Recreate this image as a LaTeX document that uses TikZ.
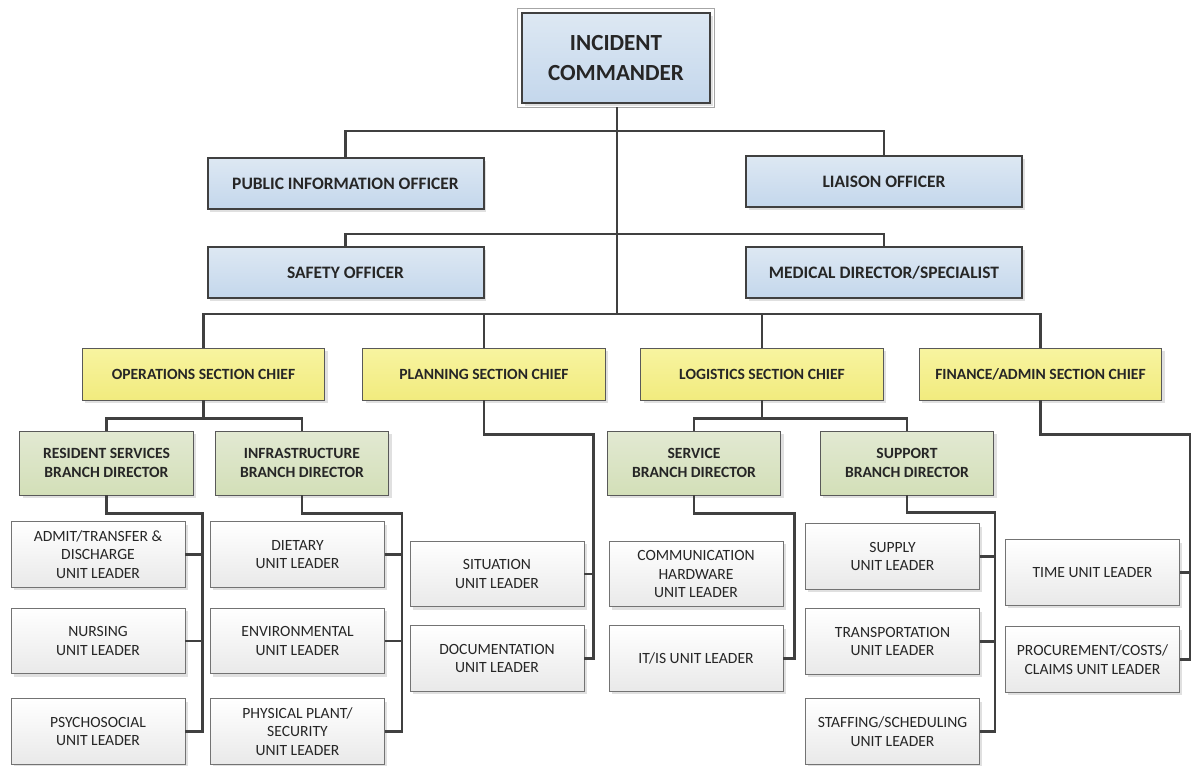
\documentclass[tikz,border=0pt]{standalone}
\usepackage{fontspec}
\setmainfont{Carlito}
\usepackage{xcolor}
\usepackage{tikz}
\usetikzlibrary{calc}
\usetikzlibrary{shadows}
\usetikzlibrary{positioning}

\definecolor{linkgray}{HTML}{404040}
\definecolor{offtop}{HTML}{DDE8F3}
\definecolor{offbot}{HTML}{C4D7EC}
\definecolor{sectop}{HTML}{F8F4A0}
\definecolor{secbot}{HTML}{F1EB7E}
\definecolor{brtop}{HTML}{E2E9D2}
\definecolor{brbot}{HTML}{D3DFB8}
\definecolor{untop}{HTML}{FFFFFF}
\definecolor{unbot}{HTML}{E9E9E9}

\tikzset{
  boxshadow/.style={drop shadow={shadow xshift=2.2pt,shadow yshift=-2.2pt,fill=black!12,opacity=1}},
  officer/.style={draw=linkgray,line width=1.5pt,top color=offtop,bottom color=offbot,
    minimum width=207pt,minimum height=38pt,boxshadow,align=center,
    font=\fontsize{13.1}{15}\selectfont\bfseries,text=black!85},
  commander/.style={officer,line width=1.1pt,minimum width=141pt,minimum height=67.5pt,
    font=\fontsize{17.3}{22}\selectfont\bfseries},
  chief/.style={draw=black!65,line width=0.7pt,top color=sectop,bottom color=secbot,
    minimum width=182pt,minimum height=39pt,boxshadow,align=center,
    font=\fontsize{11.7}{14}\selectfont\bfseries,text=black!85},
  branch/.style={chief,top color=brtop,bottom color=brbot,minimum width=130pt,minimum height=48pt},
  unitbox/.style={draw=black!55,line width=0.7pt,top color=untop,bottom color=unbot,
    minimum width=130.5pt,minimum height=49pt,boxshadow,align=center,
    font=\fontsize{11.7}{14}\selectfont,text=black!85},
  link/.style={draw=linkgray,line width=1.6pt}
}

\begin{document}
\begin{tikzpicture}[x=0.75pt,y=-0.75pt]
	\useasboundingbox (0,0) rectangle (1191,766);
	% top of the chart
	\node[commander] (ic) at (616,58) {INCIDENT\\COMMANDER};
	\draw[black!35,line width=1pt] ($(ic.north west)+(-4,-3.5)$) rectangle ($(ic.south east)+(4,3.5)$);
	\node[officer] (pio) at (345.5,183.5) {PUBLIC INFORMATION OFFICER};
	\node[officer] (lia) at (884,181.5) {LIAISON OFFICER};
	\node[officer] (saf) at (345.5,272.5) {SAFETY OFFICER};
	\node[officer] (med) at (884,272.5) {MEDICAL DIRECTOR/SPECIALIST};
	% sections
	\node[chief] (ops) at (203.5,374) {OPERATIONS SECTION CHIEF};
	\node[chief] (pln) at (484,374) {PLANNING SECTION CHIEF};
	\node[chief] (log) at (762,374) {LOGISTICS SECTION CHIEF};
	\node[chief] (fin) at (1040.5,374) {FINANCE/ADMIN SECTION CHIEF};
	% branches
	\node[branch] (res) at (106.5,463) {RESIDENT SERVICES\\BRANCH DIRECTOR};
	\node[branch] (inf) at (302,463) {INFRASTRUCTURE\\BRANCH DIRECTOR};
	\node[branch] (srv) at (694,463) {SERVICE\\BRANCH DIRECTOR};
	\node[branch] (sup) at (907,463) {SUPPORT\\BRANCH DIRECTOR};
	% unit leaders
	\node[unitbox] (adm) at (98,554.5) {ADMIT/TRANSFER \&\\DISCHARGE\\UNIT LEADER};
	\node[unitbox] (nur) at (98,641) {NURSING\\UNIT LEADER};
	\node[unitbox] (psy) at (98,731.5) {PSYCHOSOCIAL\\UNIT LEADER};
	\node[unitbox] (die) at (297.5,554.5) {DIETARY\\UNIT LEADER};
	\node[unitbox] (env) at (297.5,641) {ENVIRONMENTAL\\UNIT LEADER};
	\node[unitbox] (phy) at (297.5,731.5) {PHYSICAL PLANT/\\SECURITY\\UNIT LEADER};
	\node[unitbox] (sit) at (497,574) {SITUATION\\UNIT LEADER};
	\node[unitbox] (doc) at (497,658.5) {DOCUMENTATION\\UNIT LEADER};
	\node[unitbox] (com) at (696,574) {COMMUNICATION\\HARDWARE\\UNIT LEADER};
	\node[unitbox] (itl) at (696,658.5) {IT/IS UNIT LEADER};
	\node[unitbox] (spl) at (892.5,556.5) {SUPPLY\\UNIT LEADER};
	\node[unitbox] (trn) at (892.5,641.5) {TRANSPORTATION\\UNIT LEADER};
	\node[unitbox] (stf) at (892.5,731.5) {STAFFING/SCHEDULING\\UNIT LEADER};
	\node[unitbox] (tim) at (1092.5,572.5) {TIME UNIT LEADER};
	\node[unitbox] (prc) at (1092.5,659.5) {PROCUREMENT/COSTS/\\CLAIMS UNIT LEADER};

	% connectors
	\coordinate (secbus) at (617,314);
	\draw[link] ($(ic.south)+(1,3.5)$) -- (secbus);
	\draw[link] (pio.north) -- ++(0,-26) -| (lia.north);
	\draw[link] (saf.north) -- ++(0,-12) -| (med.north);
	\draw[link] (ops.north) |- (secbus) -| (fin.north);
	\draw[link] (pln.north) -- (pln.north |- secbus);
	\draw[link] (log.north) -- (log.north |- secbus);
	\draw[link] (ops.south) -- ++(0,18) coordinate (opsbus);
	\draw[link] (res.north) |- (opsbus) -| (inf.north);
	\draw[link] (log.south) -- ++(0,18) coordinate (logbus);
	\draw[link] (srv.north) |- (logbus) -| (sup.north);
	\draw[link] (res.south) -- ++(0,18) -| ($(psy.east)+(17,0)$) -- (psy.east);
	\draw[link] (adm.east) -- ++(17,0);
	\draw[link] (nur.east) -- ++(17,0);
	\draw[link] (inf.south) -- ++(0,18) -| ($(phy.east)+(17,0)$) -- (phy.east);
	\draw[link] (die.east) -- ++(17,0);
	\draw[link] (env.east) -- ++(17,0);
	\draw[link] (pln.south) -- ++(0,34) -| ($(doc.east)+(9,0)$) -- (doc.east);
	\draw[link] (sit.east) -- ++(9,0);
	\draw[link] (srv.south) -- ++(0,18) -| ($(itl.east)+(11,0)$) -- (itl.east);
	\draw[link] (sup.south) -- ++(0,17) -| ($(stf.east)+(15,0)$) -- (stf.east);
	\draw[link] (spl.east) -- ++(15,0);
	\draw[link] (trn.east) -- ++(15,0);
	\draw[link] (fin.south) -- ++(0,34) -| ($(prc.east)+(10,0)$) -- (prc.east);
	\draw[link] (tim.east) -- ++(10,0);
\end{tikzpicture}
\end{document}
